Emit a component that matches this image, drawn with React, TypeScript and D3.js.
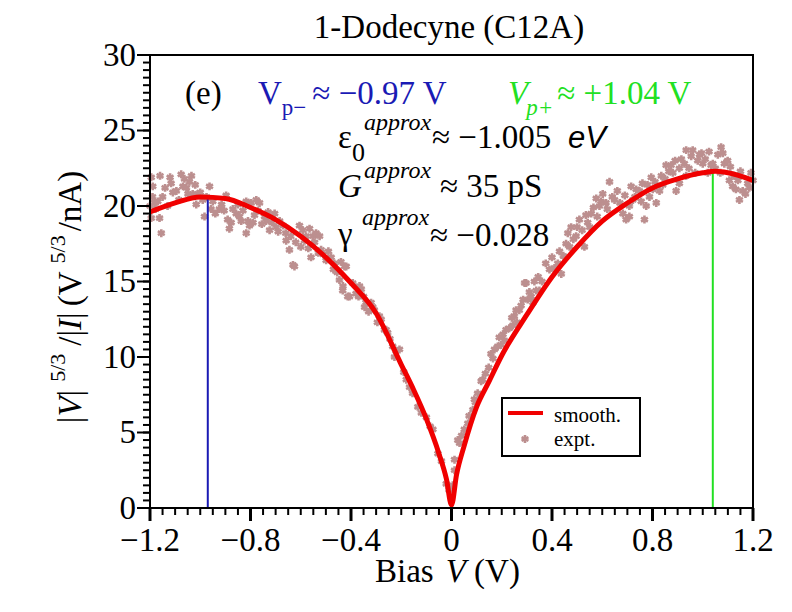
import * as d3 from 'd3';

// smoothed curve
const smoothBias = [
  -1.2, -1.1, -1.0, -0.9, -0.8, -0.7, -0.6, -0.5, -0.4, -0.3, -0.2, -0.15, -0.1, -0.05, -0.02, 0,
  0.02, 0.05, 0.1, 0.15, 0.2, 0.3, 0.4, 0.5, 0.6, 0.7, 0.8, 0.9, 1.0, 1.05, 1.1, 1.2,
];
const smoothRatio = [
  19.6, 20.2, 20.6, 20.5, 19.9, 19.1, 18.0, 16.6, 14.9, 12.9, 9.5, 7.8, 5.9, 3.6, 1.9, 0.2,
  2.2, 4.1, 6.7, 8.4, 10.1, 12.8, 15.3, 17.3, 19.0, 20.2, 21.2, 21.8, 22.2, 22.3, 22.2, 21.7,
];

// experimental points [bias V, |V|^(5/3)/|I|]
const exptPoints: [number, number][] = [
  [-1.195, 21.9], [-1.19, 20.6], [-1.189, 21.3], [-1.182, 20.2], [-1.169, 20.3], [-1.195, 19.2],
  [-1.162, 19.2], [-1.155, 18.2], [-1.16, 22.0], [-1.14, 21.2], [-1.116, 21.5], [-1.109, 20.9],
  [-1.076, 22.1], [-1.063, 21.8], [-1.043, 21.6], [-1.069, 21.3], [-1.049, 20.8], [-1.03, 20.8],
  [-1.01, 20.8], [-1.016, 20.1], [-0.99, 20.4], [-0.963, 21.3], [-0.983, 19.3], [-0.957, 19.8],
  [-0.924, 19.8], [-0.897, 20.7], [-0.891, 19.1], [-0.877, 18.9], [-0.884, 18.5], [-0.857, 19.5],
  [-0.844, 19.3], [-0.837, 19.0], [-0.85, 20.1], [-0.817, 20.3], [-0.797, 20.2], [-0.777, 20.4],
  [-0.764, 20.2], [-0.804, 18.7], [-0.817, 18.2], [-0.784, 19.4], [-0.744, 19.3], [-0.738, 19.0],
  [-0.724, 18.4], [-0.704, 19.5], [-0.698, 18.6], [-0.684, 19.0], [-0.658, 17.7], [-0.645, 17.1],
  [-0.631, 16.1], [-0.625, 16.0], [-0.605, 18.7], [-0.592, 18.4], [-0.579, 18.0], [-0.565, 18.5],
  [-0.552, 18.0], [-0.539, 18.2], [-0.525, 18.0], [-0.559, 16.6], [-0.519, 17.1], [-0.499, 16.4],
  [-0.479, 16.6], [-0.466, 16.2], [-0.446, 15.1], [-0.433, 14.4], [-0.419, 16.0], [-0.413, 14.0],
  [-0.393, 14.9], [-0.366, 14.7], [-0.34, 13.6], [-0.313, 13.3], [-0.287, 12.7], [-0.26, 11.8],
  [-0.234, 10.7], [-0.221, 10.4], [-0.426, 16.0], [-0.432, 14.7], [-0.406, 14.0], [-0.359, 14.5],
  [-0.346, 13.3], [-0.32, 13.6], [-0.307, 13.1], [-0.28, 12.5], [-0.267, 11.8], [-0.254, 11.6],
  [-0.207, 10.5], [-0.227, 10.0], [-0.18, 8.5], [-0.167, 8.0], [-0.134, 6.7], [-0.1, 6.0],
  [-0.074, 5.2], [-0.054, 3.6], [-0.021, 1.6],
  [-1.2, 20.0], [-1.178, 19.8], [-1.15, 20.6], [-1.13, 20.0], [-1.12, 21.9], [-1.095, 21.0],
  [-1.085, 20.4], [-1.055, 21.2], [-1.035, 22.0], [-1.02, 21.4], [-1.0, 20.9], [-0.975, 20.6],
  [-0.95, 20.3], [-0.94, 19.5], [-0.915, 20.1], [-0.905, 19.7], [-0.87, 19.8], [-0.83, 19.7],
  [-0.81, 19.0], [-0.79, 18.9], [-0.77, 19.7], [-0.755, 18.8], [-0.73, 19.6], [-0.715, 18.9],
  [-0.69, 18.3], [-0.67, 18.7], [-0.66, 18.2], [-0.64, 18.0], [-0.62, 17.6], [-0.6, 17.3],
  [-0.585, 17.7], [-0.57, 17.2], [-0.545, 17.6], [-0.53, 16.9], [-0.51, 16.8], [-0.49, 17.0],
  [-0.47, 15.8], [-0.455, 15.6], [-0.44, 16.3], [-0.38, 14.2], [-0.37, 14.0], [-0.35, 14.0],
  [-0.33, 13.0], [-0.295, 12.3], [-0.245, 11.2], [-0.19, 9.0], [-0.155, 7.6], [-0.12, 6.3],
  [-0.085, 5.4], [-0.04, 3.1], [-0.01, 1.2],
  [0.012, 3.2], [0.012, 2.5], [0.025, 4.5], [0.032, 4.3], [0.051, 5.2], [0.065, 5.6],
  [0.085, 6.5], [0.091, 7.2], [0.104, 7.6], [0.118, 8.4], [0.124, 8.5], [0.148, 9.3],
  [0.157, 10.2], [0.171, 10.5], [0.184, 10.7], [0.197, 10.8], [0.21, 11.1], [0.217, 11.8],
  [0.23, 11.9], [0.244, 12.1], [0.25, 12.7], [0.27, 13.1], [0.277, 13.4], [0.297, 14.9],
  [0.303, 13.8], [0.317, 14.0], [0.337, 14.4], [0.257, 13.1], [0.291, 14.9], [0.324, 13.6],
  [0.35, 14.4], [0.39, 15.8], [0.423, 16.2], [0.437, 15.5], [0.456, 17.5], [0.463, 18.2],
  [0.476, 18.6], [0.496, 18.0], [0.509, 19.1], [0.529, 17.3], [0.542, 18.9], [0.556, 19.5],
  [0.576, 20.5], [0.589, 20.0], [0.602, 20.8], [0.615, 20.2], [0.629, 21.6], [0.649, 20.4],
  [0.682, 19.5], [0.695, 19.1], [0.708, 20.0], [0.722, 20.4], [0.735, 21.1], [0.748, 21.0],
  [0.768, 19.1], [0.788, 20.6], [0.801, 21.1], [0.815, 20.2], [0.828, 21.0], [0.841, 21.4],
  [0.854, 22.7], [0.874, 22.7], [0.881, 22.2], [0.907, 22.5], [0.927, 22.8], [0.934, 23.7],
  [0.954, 23.3], [0.96, 23.7], [0.98, 23.0], [0.987, 23.4], [1.0, 22.8], [1.02, 22.2],
  [1.033, 22.7], [1.04, 22.8], [1.06, 23.4], [1.073, 23.9], [1.086, 22.8], [1.099, 23.0],
  [1.106, 21.7], [1.119, 21.3], [1.132, 21.1], [1.146, 20.4], [1.159, 21.0], [1.179, 21.5],
  [1.192, 22.2], [0.907, 21.5], [0.894, 21.0], [0.934, 22.0], [0.708, 19.3], [0.775, 20.0],
  [0.005, 1.5], [0.04, 4.8], [0.07, 6.1], [0.095, 7.0], [0.135, 8.9], [0.165, 9.9],
  [0.19, 11.3], [0.205, 11.5], [0.24, 12.6], [0.26, 12.3], [0.285, 13.8], [0.31, 14.3],
  [0.33, 15.0], [0.345, 15.3], [0.36, 15.0], [0.375, 16.2], [0.4, 16.6], [0.41, 15.9],
  [0.43, 17.0], [0.445, 16.7], [0.47, 17.3], [0.485, 17.8], [0.5, 18.6], [0.52, 18.4],
  [0.535, 19.4], [0.55, 18.6], [0.565, 19.9], [0.58, 19.3], [0.595, 20.3], [0.62, 19.8],
  [0.64, 20.6], [0.66, 21.0], [0.67, 20.2], [0.69, 20.7], [0.715, 21.3], [0.73, 20.6],
  [0.755, 20.3], [0.76, 21.5], [0.78, 21.4], [0.795, 21.9], [0.81, 21.6], [0.835, 22.0],
  [0.85, 21.8], [0.865, 22.3], [0.89, 23.0], [0.915, 23.1], [0.945, 22.5], [0.97, 22.2],
  [0.995, 23.5], [1.01, 23.1], [1.025, 23.6], [1.05, 22.5], [1.07, 22.2], [1.08, 23.5],
  [1.11, 22.6], [1.125, 22.0], [1.14, 21.7], [1.15, 22.3], [1.17, 20.8], [1.185, 21.2],
  [1.2, 21.7],
];

const xMajorTicks = [-1.2, -0.8, -0.4, 0, 0.4, 0.8, 1.2];
const yMajorTicks = [0, 5, 10, 15, 20, 25, 30];
const peakMinus = { bias: -0.97, ratio: 20.6 };
const peakPlus = { bias: 1.04, ratio: 22.3 };

const W = 792;
const H = 612;
const serif = "'Liberation Serif', 'Times New Roman', serif";

const fmtX = (d: number) => (d === 0 ? '0' : (d < 0 ? '\u2212' : '') + Math.abs(d).toFixed(1));

export default function App() {
  const x = d3.scaleLinear().domain([-1.2, 1.2]).range([150, 753]);
  const y = d3.scaleLinear().domain([0, 30]).range([508, 55]);

  const xMinor = d3.range(-24, 25).map((i) => i * 0.05);
  const yMinor = d3.range(0, 61).map((i) => i * 0.5);

  const smoothLine = d3
    .line<number>()
    .x((_, i) => x(smoothBias[i]))
    .y((d) => y(d))
    .curve(d3.curveMonotoneX);

  const star = d3.symbol(d3.symbolAsterisk, 44)() ?? '';
  const dotColor = '#bc8f8f';

  return (
    <svg
      width={W}
      height={H}
      style={{ position: 'absolute', left: 0, top: 0, background: '#fff' }}
      fontFamily={serif}
    >
      {/* title */}
      <text x={449} y={38} textAnchor="middle" fontSize={33}>
        1-Dodecyne (C12A)
      </text>

      {/* expt points */}
      <g stroke={dotColor} strokeWidth={2.6} fill="none">
        {exptPoints.map(([v, r], i) => (
          <path key={i} d={star} transform={`translate(${x(v)},${y(r)})`} />
        ))}
      </g>

      {/* peak markers */}
      <line x1={x(peakMinus.bias)} x2={x(peakMinus.bias)} y1={y(0)} y2={y(peakMinus.ratio)} stroke="#1a1ab4" strokeWidth={2} />
      <line x1={x(peakPlus.bias)} x2={x(peakPlus.bias)} y1={y(0)} y2={y(peakPlus.ratio)} stroke="#22e022" strokeWidth={2} />

      {/* smooth curve */}
      <path d={smoothLine(smoothRatio) ?? ''} fill="none" stroke="#f00000" strokeWidth={5} />

      {/* frame */}
      <rect x={150} y={55} width={603} height={453} fill="none" stroke="#000" strokeWidth={2} />

      {/* ticks */}
      <g stroke="#000" strokeWidth={2}>
        {xMinor.map((t, i) => (
          <line key={'xm' + i} x1={x(t)} x2={x(t)} y1={508} y2={515} />
        ))}
        {xMajorTicks.map((t) => (
          <line key={'xM' + t} x1={x(t)} x2={x(t)} y1={508} y2={521} strokeWidth={3} />
        ))}
        {yMinor.map((t, i) => (
          <line key={'ym' + i} x1={143} x2={150} y1={y(t)} y2={y(t)} />
        ))}
        {yMajorTicks.map((t) => (
          <line key={'yM' + t} x1={137} x2={150} y1={y(t)} y2={y(t)} />
        ))}
      </g>
      <g fontSize={33}>
        {xMajorTicks.map((t) => (
          <text key={'xl' + t} x={x(t)} y={551} textAnchor="middle">
            {fmtX(t)}
          </text>
        ))}
        {yMajorTicks.map((t) => (
          <text key={'yl' + t} x={136} y={y(t)} dy="0.33em" textAnchor="end">
            {t}
          </text>
        ))}
      </g>

      {/* axis titles */}
      <text x={375} y={582} fontSize={33}>
        Bias<tspan dx={12} fontStyle="italic">V</tspan> (V)
      </text>
      <text transform="translate(81,297) rotate(-90)" textAnchor="middle" fontSize={33}>
        |<tspan fontStyle="italic">V</tspan>|
        <tspan fontSize={22} dy={-16} dx={8}>5/3</tspan>
        <tspan dy={16} dx={8}>/|</tspan>
        <tspan fontStyle="italic">I</tspan>|<tspan dx={6}>(V</tspan>
        <tspan fontSize={22} dy={-16} dx={8}>5/3</tspan>
        <tspan dy={16} dx={4}>/nA)</tspan>
      </text>

      {/* annotations */}
      <g fontSize={33}>
        <text x={185} y={104}>(e)</text>
        <text x={258} y={104} fill="#1a1ab4">
          V<tspan fontSize={23} dy={11}>p{'\u2212'}</tspan>
          <tspan dy={-11} dx={6}>{'\u2248 \u22120.97 V'}</tspan>
        </text>
        <text x={508} y={104} fill="#22e022">
          <tspan fontStyle="italic">V</tspan>
          <tspan fontSize={23} dy={11} dx={-2} fontStyle="italic">p+</tspan>
          <tspan dy={-11} dx={4}>{'\u2248 +1.04 V'}</tspan>
        </text>

        <text x={338} y={148}>{'\u03b5'}</text>
        <text x={352} y={161} fontSize={26}>0</text>
        <text x={364} y={130} fontSize={24} fontStyle="italic">approx</text>
        <text x={432} y={148}>{'\u2248  \u22121.005'}</text>
        <text x={568} y={148} fontFamily="'Liberation Sans', Arial, sans-serif" fontStyle="italic" fontSize={31}>
          eV
        </text>

        <text x={338} y={197} fontStyle="italic">G</text>
        <text x={364} y={178} fontSize={24} fontStyle="italic">approx</text>
        <text x={440} y={197}>{'\u2248 35 pS'}</text>

        <text x={338} y={245}>{'\u03b3'}</text>
        <text x={362} y={225} fontSize={24} fontStyle="italic">approx</text>
        <text x={430} y={246}>{'\u2248 \u22120.028'}</text>
      </g>

      {/* legend */}
      <rect x={502} y={398} width={138} height={58} fill="#fff" stroke="#000" strokeWidth={2} />
      <line x1={508} x2={543} y1={413} y2={413} stroke="#f00000" strokeWidth={4} />
      <text x={554} y={422} fontSize={21}>smooth.</text>
      <path d={star} transform="translate(525,439)" stroke={dotColor} strokeWidth={2.6} fill="none" />
      <text x={554} y={446} fontSize={21}>expt.</text>
    </svg>
  );
}
